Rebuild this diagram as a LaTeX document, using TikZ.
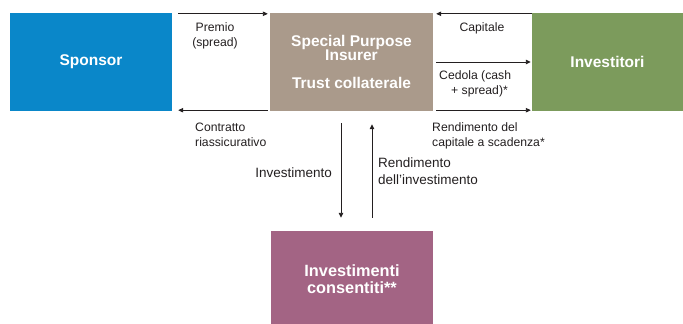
\documentclass[tikz,border=0pt]{standalone}
\usepackage{fontspec}
\setmainfont{Liberation Sans}
\usetikzlibrary{arrows.meta}
\definecolor{sponsorblue}{HTML}{0A87C9}
\definecolor{spitan}{HTML}{AA9A8B}
\definecolor{investgreen}{HTML}{7C9B5C}
\definecolor{consmauve}{HTML}{A36484}
\definecolor{inkc}{HTML}{231F20}
\begin{document}
\begin{tikzpicture}[x=1pt,y=-1pt,
  box/.style={rectangle, inner sep=0pt, text=white, align=center,
    font=\fontsize{15.5}{13}\selectfont\bfseries},
  flow/.style={draw=inkc, line width=0.9pt, -{Triangle[length=5pt,width=4.5pt]}},
  lbl/.style={font=\fontsize{12.2}{14.5}\selectfont, text=inkc, inner sep=0pt},
  lblbig/.style={font=\fontsize{13.5}{17}\selectfont, text=inkc, inner sep=0pt}]
\useasboundingbox (0,0) rectangle (683,324);

% boxes
\node[box, fill=sponsorblue, minimum width=162pt, minimum height=98pt] (sponsor) at (91,62) {Sponsor};
\node[box, fill=spitan, minimum width=163pt, minimum height=98pt] (spi) at (351.5,62)
  {Special Purpose\\Insurer\\[15pt]Trust collaterale};
\node[box, fill=investgreen, minimum width=151pt, minimum height=98pt] (inv) at (607.5,62) {Investitori};
\node[box, fill=consmauve, minimum width=162pt, minimum height=93pt,
  font=\fontsize{16.3}{17}\selectfont\bfseries] (cons) at (352,277.5)
  {\rule{0pt}{15.5pt}Investimenti\\consentiti**};

% flows between sponsor and SPI
\draw[flow] ([xshift=6pt,yshift=-1pt]sponsor.north east) -- ([xshift=-2pt,yshift=-1pt]spi.north west);
\draw[flow] ([xshift=-2pt,yshift=1pt]spi.south west) -- ([xshift=6pt,yshift=1pt]sponsor.south east);

% flows between SPI and investors
\draw[flow] ([yshift=-1pt]inv.north west) -- ([xshift=3pt,yshift=-1pt]spi.north east);
\draw[flow] ([xshift=3pt]spi.east) -- ([xshift=-1pt]inv.west);
\draw[flow] ([xshift=3pt,yshift=1pt]spi.south east) -- ([xshift=-1pt,yshift=1pt]inv.south west);

% flows between SPI and permitted investments
\draw[flow] ([xshift=-10.5pt,yshift=-12pt]spi.south) -- ([xshift=-11pt,yshift=13pt]cons.north);
\draw[flow] ([xshift=20pt,yshift=13pt]cons.north) -- ([xshift=20.5pt,yshift=-13pt]spi.south);

% labels (multi-line ones are anchored on the baseline of their last line)
\node[lbl, align=center, anchor=base] (lpremio) at (215,46) {Premio\\(spread)};
\node[lbl, align=left, anchor=base west] (lcontr) at (195,146) {Contratto\\riassicurativo};
\node[lbl, anchor=base] (lcap) at (482,31) {Capitale};
\node[lbl, align=left, anchor=base west] (lcedola) at (439,94) {Cedola (cash\\\hspace*{12pt}+ spread)*};
\node[lbl, align=left, anchor=base west] (lrend) at (432,146) {Rendimento del\\capitale a scadenza*};
\node[lblbig, anchor=base east] (linvest) at (332,177) {Investimento};
\node[lblbig, align=left, anchor=base west] (lrendinv) at (378,184) {Rendimento\\dell’investimento};
\end{tikzpicture}
\end{document}
